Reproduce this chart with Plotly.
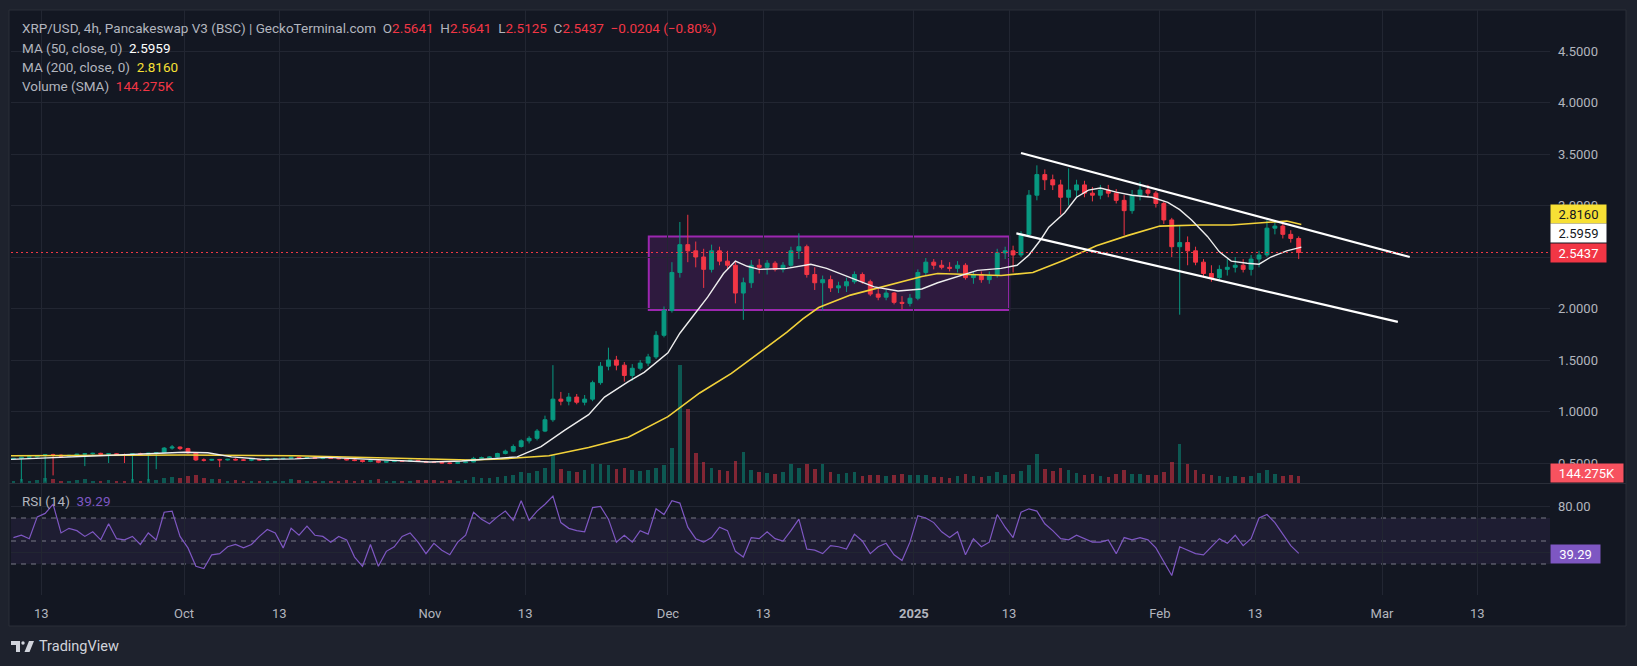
import pandas as pd
import plotly.graph_objects as go

# ---------------- data (daily aggregation) ----------------
first_day, last_day = "2024-09-09", "2025-02-18"

open_ = [
    .540,.545,.556,.560,.570,.580,.576,.566,.574,.586,.590,.594,.586,.590,.582,.578,.590,.584,.596,.600,.645,.655,
    .640,.600,.530,.528,.535,.530,.536,.530,.528,.532,.530,.538,.542,.545,.556,.548,.552,.545,.548,.544,.542,.530,.524,.515,.522,.508,.514,.520,.518,.526,.515,
    .508,.506,.500,.496,.504,.510,.545,.552,.558,.592,.615,.660,.715,.740,.810,.920,1.120,1.100,1.140,1.090,1.120,1.280,1.440,1.500,1.450,1.350,1.420,1.470,1.530,1.740,
    1.980,2.350,2.620,2.560,2.500,2.380,2.560,2.460,2.420,2.150,2.250,2.420,2.400,2.440,2.380,2.420,2.560,2.600,2.330,2.250,2.280,2.200,2.220,2.260,2.330,2.260,2.140,2.110,2.150,2.060,2.050,
    2.100,2.350,2.450,2.420,2.400,2.390,2.420,2.300,2.330,2.280,2.320,2.540,2.560,2.520,2.720,3.100,3.300,3.250,3.200,3.080,3.150,3.200,3.120,3.100,3.150,3.120,3.050,2.950,3.100,3.150,3.120,
    3.020,2.860,2.600,2.640,2.560,2.450,2.340,2.300,2.380,2.400,2.420,2.380,2.480,2.520,2.780,2.800,2.720,2.680,
]
high = [
    .548,.560,.566,.575,.586,.590,.584,.580,.590,.596,.600,.600,.596,.596,.592,.595,.600,.600,.606,.655,.675,.662,
    .648,.605,.545,.540,.540,.540,.546,.540,.536,.540,.542,.546,.550,.562,.562,.558,.558,.552,.553,.550,.548,.538,.530,.526,.526,.518,.524,.528,.530,.530,.522,
    .518,.512,.506,.508,.514,.560,.562,.566,.600,.630,.680,.730,.760,.830,.960,1.450,1.190,1.180,1.170,1.160,1.300,1.480,1.620,1.540,1.480,1.460,1.500,1.560,1.780,2.020,
    2.450,2.840,2.910,2.650,2.580,2.620,2.600,2.560,2.460,2.300,2.470,2.480,2.470,2.460,2.450,2.600,2.730,2.620,2.400,2.320,2.320,2.260,2.300,2.360,2.350,2.280,2.200,2.180,2.160,2.120,2.140,
    2.380,2.490,2.480,2.470,2.450,2.460,2.440,2.360,2.360,2.360,2.580,2.600,2.610,2.750,3.150,3.390,3.350,3.300,3.250,3.360,3.250,3.240,3.180,3.200,3.200,3.160,3.100,3.150,3.230,3.200,3.140,
    3.040,2.880,2.800,2.700,2.600,2.480,2.420,2.420,2.480,2.500,2.480,2.520,2.560,2.860,2.850,2.840,2.760,2.700,
]
low = [
    .530,.320,.540,.552,.320,.380,.560,.558,.568,.470,.580,.580,.500,.575,.500,.320,.580,.320,.440,.596,.630,.625,
    .590,.520,.515,.520,.460,.524,.526,.522,.518,.524,.526,.532,.534,.540,.540,.540,.540,.536,.540,.536,.525,.518,.505,.508,.498,.502,.508,.512,.514,.510,.504,
    .500,.496,.488,.490,.498,.506,.535,.544,.554,.584,.605,.650,.690,.720,.800,.900,1.060,1.060,1.070,1.060,1.100,1.260,1.400,1.400,1.290,1.300,1.400,1.440,1.510,1.720,
    1.960,2.300,2.450,2.400,2.200,2.350,2.420,2.380,2.050,1.890,2.200,2.340,2.330,2.360,2.350,2.400,2.480,2.300,2.180,1.980,2.160,2.150,2.160,2.240,2.240,2.120,2.080,2.080,2.040,1.990,2.020,
    2.080,2.320,2.380,2.380,2.360,2.350,2.280,2.240,2.250,2.240,2.300,2.480,2.350,2.500,2.700,3.050,3.150,3.150,2.910,3.000,3.080,3.080,3.040,3.060,3.080,3.020,2.710,2.920,3.050,3.080,2.980,
    2.820,2.500,1.940,2.420,2.420,2.300,2.260,2.280,2.320,2.350,2.350,2.320,2.400,2.500,2.720,2.680,2.640,2.480,
]
close = [
    .545,.556,.560,.570,.580,.576,.566,.574,.586,.590,.594,.586,.590,.582,.578,.590,.584,.596,.600,.645,.655,.640,
    .600,.530,.528,.535,.530,.536,.530,.528,.532,.530,.538,.542,.545,.556,.548,.552,.545,.548,.544,.542,.530,.524,.515,.522,.508,.514,.520,.518,.526,.515,.508,
    .506,.500,.496,.504,.510,.545,.552,.558,.592,.615,.660,.715,.740,.810,.920,1.120,1.100,1.140,1.090,1.120,1.280,1.440,1.500,1.450,1.350,1.420,1.470,1.530,1.740,1.980,
    2.350,2.620,2.560,2.500,2.380,2.560,2.460,2.420,2.150,2.250,2.420,2.400,2.440,2.380,2.420,2.560,2.600,2.330,2.250,2.280,2.200,2.220,2.260,2.330,2.260,2.140,2.110,2.150,2.060,2.050,2.100,
    2.350,2.450,2.420,2.400,2.390,2.420,2.300,2.330,2.280,2.320,2.540,2.560,2.520,2.720,3.100,3.300,3.250,3.200,3.080,3.150,3.200,3.120,3.100,3.150,3.120,3.050,2.950,3.100,3.150,3.120,3.020,
    2.860,2.600,2.640,2.560,2.450,2.340,2.300,2.380,2.400,2.420,2.380,2.480,2.520,2.780,2.800,2.720,2.680,2.5437,
]
volume_k = [
    20,35,18,22,40,30,15,18,22,30,18,15,25,14,20,38,18,35,28,45,55,40,
    60,65,45,35,30,20,22,18,20,18,15,20,18,30,25,20,18,15,14,16,22,20,28,22,30,18,15,18,20,22,25,
    25,20,22,18,25,50,45,40,55,60,70,90,85,100,130,235,120,100,90,110,160,160,150,120,130,110,100,110,127,150,
    300,1000,626,250,178,130,110,100,186,262,110,90,85,80,95,160,130,160,120,160,90,80,85,93,60,70,65,60,70,75,65,
    68,70,55,50,45,60,75,60,55,60,90,70,80,100,150,245,120,100,127,110,85,70,75,60,55,80,110,80,75,65,70,
    90,180,330,160,110,80,70,60,55,60,55,60,85,110,80,60,65,60,
]
rsi = [
    53,55,52,71,74,82,57,61,59,54,58,51,65,52,51,54,47,57,51,75,76,54,
    44,28,26,38,39,45,47,44,47,54,60,57,44,61,55,63,55,54,49,54,51,36,28,47,28,41,45,54,57,49,39,
    48,42,38,49,55,75,69,65,71,76,68,85,68,76,82,89,66,61,59,58,79,80,69,49,55,49,59,56,78,73,
    85,83,62,52,49,53,62,59,41,36,53,52,58,52,50,59,69,43,42,39,46,45,43,56,50,39,45,48,38,33,49,
    72,70,66,58,53,58,38,52,45,49,73,62,53,75,78,76,65,59,52,51,55,52,49,49,51,39,53,51,53,51,44,
    32,20,45,42,39,38,45,52,48,55,46,52,70,73,66,56,46,39.29,
]
ma50_dates = ["2024-09-09 04:00","2024-09-16","2024-09-24","2024-10-01","2024-10-04","2024-10-07","2024-10-11",
              "2024-10-15","2024-10-19","2024-10-24","2024-10-28","2024-11-01","2024-11-05","2024-11-10","2024-11-12",
              "2024-11-15","2024-11-18","2024-11-21","2024-11-23","2024-11-26","2024-11-28","2024-12-01","2024-12-02 12:00",
              "2024-12-04","2024-12-06","2024-12-08","2024-12-09 12:00","2024-12-11","2024-12-12 12:00","2024-12-16",
              "2024-12-19","2024-12-21","2024-12-24","2024-12-27","2024-12-30","2025-01-02","2025-01-04","2025-01-07",
              "2025-01-09","2025-01-12","2025-01-14","2025-01-15 12:00","2025-01-17","2025-01-18","2025-01-20",
              "2025-01-21 12:00","2025-01-23","2025-01-24 12:00","2025-01-26 12:00","2025-01-28 12:00","2025-01-31",
              "2025-02-02","2025-02-03 12:00","2025-02-05","2025-02-07","2025-02-08 12:00","2025-02-10","2025-02-12",
              "2025-02-13 12:00","2025-02-15","2025-02-17","2025-02-18 20:00"]
ma50_values = [0.535,0.555,0.578,0.605,0.600,0.560,0.535,0.540,0.555,0.535,0.520,0.510,0.520,0.545,0.560,
               0.660,0.820,0.970,1.140,1.290,1.380,1.570,1.760,1.910,2.110,2.340,2.460,2.410,2.380,2.390,
               2.430,2.390,2.300,2.210,2.170,2.190,2.250,2.320,2.370,2.390,2.420,2.520,2.670,2.790,2.930,
               3.080,3.150,3.170,3.130,3.100,3.080,3.030,2.960,2.860,2.700,2.550,2.460,2.440,2.430,2.500,2.560,2.5959]
ma200_dates = ["2024-09-09 04:00","2024-09-20","2024-10-01","2024-10-15","2024-10-25","2024-11-01","2024-11-06",
               "2024-11-10","2024-11-16","2024-11-21","2024-11-26","2024-12-01","2024-12-05","2024-12-09","2024-12-13",
               "2024-12-16","2024-12-18","2024-12-20","2024-12-24","2024-12-28","2025-01-02","2025-01-04","2025-01-08",
               "2025-01-12","2025-01-16","2025-01-20","2025-01-24","2025-01-28","2025-02-01","2025-02-06","2025-02-10",
               "2025-02-14","2025-02-17","2025-02-18 20:00"]
ma200_values = [0.570,0.575,0.578,0.570,0.555,0.540,0.530,0.540,0.570,0.650,0.750,0.950,1.180,1.370,1.600,
                1.770,1.900,2.010,2.130,2.210,2.310,2.340,2.330,2.320,2.350,2.470,2.610,2.710,2.800,2.810,2.810,
                2.830,2.850,2.816]

# drawings on the chart
box_x = ["2024-11-28 14:00", "2025-01-13 00:00"]
box_y = [1.985, 2.700]
upper_x = ["2025-01-14 12:00", "2025-03-04 12:00"]
upper_y = [3.51, 2.50]
lower_x = ["2025-01-13 22:00", "2025-03-03 00:00"]
lower_y = [2.73, 1.87]
last_price = 2.5437

# axis labels (labels fully hidden behind the price-scale badges are left blank)
price_ticks = [0.5, 1.0, 1.5, 2.0, 2.5, 3.0, 3.5, 4.0, 4.5]
price_labels = ["0.5000", "1.0000", "1.5000", "2.0000", "", "3.0000", "3.5000", "4.0000", "4.5000"]
date_ticks = ["2024-09-13","2024-10-01","2024-10-13","2024-11-01","2024-11-13","2024-12-01","2024-12-13",
              "2025-01-01","2025-01-13","2025-02-01","2025-02-13","2025-03-01","2025-03-13"]
date_labels = ["13","Oct","13","Nov","13","Dec","13","<b>2025</b>","13","Feb","13","Mar","13"]
rsi_ticks = [40, 80]
rsi_labels = ["", "80.00"]

title_txt = "XRP/USD, 4h, Pancakeswap V3 (BSC) | GeckoTerminal.com"
ohlc_txt = [("O", "2.5641"), ("H", "2.5641"), ("L", "2.5125"), ("C", "2.5437")]
change_txt = "\u22120.0204 (\u22120.80%)"
ma50_lbl, ma50_val = "MA (50, close, 0)", "2.5959"
ma200_lbl, ma200_val = "MA (200, close, 0)", "2.8160"
vol_lbl, vol_val = "Volume (SMA)", "144.275K"
rsi_lbl, rsi_val = "RSI (14)", "39.29"

# ---------------- styling ----------------
FONT = "Roboto"
TXT = "#b2b5be"
UP, DN = "#089981", "#f23645"
BG, FRAME, GRID = "#131722", "#1e222d", "#222632"
PL, PR, PT, PB = 11, 1550, 10, 595


def px(x):
    return (x - PL) / (PR - PL)


def py(y):
    return (PB - y) / (PB - PT)


days = pd.date_range(first_day, last_day, freq="D")
assert len(days) == len(open_) == len(high) == len(low) == len(close) == len(volume_k) == len(rsi)
xc = days + pd.Timedelta(hours=12)
vol_colors = ["rgba(8,153,129,0.5)" if c >= o else "rgba(242,54,69,0.5)" for o, c in zip(open_, close)]

fig = go.Figure()
fig.add_trace(go.Bar(x=xc, y=volume_k, marker=dict(color=vol_colors, line=dict(width=0)),
                     width=0.45 * 86400000, xaxis="x", yaxis="y", hoverinfo="skip"))
fig.add_trace(go.Candlestick(x=xc, open=open_, high=high, low=low, close=close,
                             increasing=dict(line=dict(color=UP, width=1), fillcolor=UP),
                             decreasing=dict(line=dict(color=DN, width=1), fillcolor=DN),
                             whiskerwidth=0, xaxis="x", yaxis="y3", hoverinfo="skip"))
fig.add_trace(go.Scatter(x=ma200_dates, y=ma200_values, mode="lines", line=dict(color="#f2d23a", width=1.6),
                         xaxis="x", yaxis="y3", hoverinfo="skip"))
fig.add_trace(go.Scatter(x=ma50_dates, y=ma50_values, mode="lines", line=dict(color="#eeeeee", width=1.4),
                         xaxis="x", yaxis="y3", hoverinfo="skip"))
fig.add_trace(go.Scatter(x=xc, y=rsi, mode="lines", line=dict(color="#7e57c2", width=1.2),
                         xaxis="x2", yaxis="y2", hoverinfo="skip"))

x_range = ["2024-09-09 04:41", "2025-03-22 04:12"]
axis_font = dict(family=FONT, size=13, color=TXT)

shapes = [
    dict(type="rect", xref="paper", yref="paper", x0=px(9), x1=px(1626), y0=py(626), y1=py(10),
         fillcolor=BG, line=dict(color="#2a2e39", width=1), layer="below"),
    dict(type="line", xref="paper", yref="paper", x0=px(9), x1=px(1626), y0=py(483.5), y1=py(483.5),
         line=dict(color="#2a2e39", width=1), layer="below"),
    dict(type="rect", xref="paper", yref="y2", x0=0, x1=1, y0=30, y1=70,
         fillcolor="rgba(126,87,194,0.10)", line=dict(width=0), layer="below"),
]
for lvl in (70, 50, 30):
    shapes.append(dict(type="line", xref="paper", yref="y2", x0=0, x1=1, y0=lvl, y1=lvl,
                       line=dict(color="#787b86", width=1, dash="5px,5px"), layer="below"))
shapes += [
    dict(type="rect", xref="x", yref="y3", x0=box_x[0], x1=box_x[1], y0=box_y[0], y1=box_y[1],
         fillcolor="rgba(156,39,176,0.2)", line=dict(color="#9c27b0", width=2), layer="below"),
    dict(type="line", xref="x", yref="y3", x0=upper_x[0], x1=upper_x[1], y0=upper_y[0], y1=upper_y[1],
         line=dict(color="#ffffff", width=2.2), layer="above"),
    dict(type="line", xref="x", yref="y3", x0=lower_x[0], x1=lower_x[1], y0=lower_y[0], y1=lower_y[1],
         line=dict(color="#ffffff", width=2.2), layer="above"),
    dict(type="line", xref="paper", yref="y3", x0=0, x1=1, y0=last_price, y1=last_price,
         line=dict(color=DN, width=1, dash="2px,3px"), layer="above"),
]
# TradingView logo glyph
logo_col = "#d1d4dc"
shapes += [
    dict(type="path", xref="paper", yref="paper",
         path=f"M {px(11)},{py(641)} L {px(20)},{py(641)} L {px(20)},{py(652)} L {px(16)},{py(652)} "
              f"L {px(16)},{py(645)} L {px(11)},{py(645)} Z",
         fillcolor=logo_col, line=dict(width=0)),
    dict(type="circle", xref="paper", yref="paper", x0=px(21.3), x1=px(24.7), y0=py(644.7), y1=py(641.3),
         fillcolor=logo_col, line=dict(width=0)),
    dict(type="path", xref="paper", yref="paper",
         path=f"M {px(29)},{py(641)} L {px(34)},{py(641)} L {px(29.5)},{py(652)} L {px(24.5)},{py(652)} Z",
         fillcolor=logo_col, line=dict(width=0)),
]

NB = "\u00a0"


def col(t, c):
    return f"<span style='color:{c}'>{t}</span>"


line1 = title_txt + NB * 2 + (NB * 2).join(k + col(v, DN) for k, v in ohlc_txt) + NB * 2 + col(change_txt, DN)
legend_rows = [
    (line1, 28),
    (ma50_lbl + NB * 2 + col(ma50_val, "#ffffff"), 48),
    (ma200_lbl + NB * 2 + col(ma200_val, "#f7e035"), 67),
    (vol_lbl + NB * 2 + col(vol_val, DN), 86),
]
annotations = []
for txt, yy in legend_rows:
    annotations.append(dict(xref="paper", yref="paper", x=px(20), y=py(yy), xanchor="left", yanchor="middle",
                            text=txt, showarrow=False, font=dict(family=FONT, size=13.5, color=TXT)))
annotations.append(dict(xref="paper", yref="paper", x=px(20), y=py(500.5), xanchor="left", yanchor="middle",
                        text=rsi_lbl + NB * 2 + col(rsi_val, "#7e57c2"), showarrow=False,
                        font=dict(family=FONT, size=13.5, color=TXT)))

# price-scale badges
for txt, yy, bg, fg, w in [(ma200_val, 214, "#f7e035", "#131722", 55),
                           (ma50_val, 232.5, "#ffffff", "#131722", 55),
                           (f"{last_price:.4f}", 253, DN, "#ffffff", 55),
                           (vol_val, 472.5, "#f7525f", "#ffffff", 72),
                           (rsi_val, 553.5, "#7e57c2", "#ffffff", 49)]:
    annotations.append(dict(xref="paper", yref="paper", x=1.0, y=py(yy), xanchor="left", yanchor="middle",
                            text=txt, showarrow=False, bgcolor=bg, width=w, height=18, borderpad=0,
                            align="center", font=dict(family=FONT, size=13, color=fg)))

annotations.append(dict(xref="paper", yref="paper", x=px(37), y=py(646.5), xanchor="left", yanchor="middle",
                        text="TradingView", showarrow=False, font=dict(family=FONT, size=14.5, color=logo_col)))

fig.update_layout(
    width=1637, height=666,
    margin=dict(l=PL, r=1637 - PR, t=PT, b=666 - PB, autoexpand=False),
    paper_bgcolor=FRAME, plot_bgcolor=BG,
    showlegend=False, hovermode=False, bargap=0,
    font=dict(family=FONT, color=TXT),
    xaxis=dict(domain=[0, 1], anchor="y", type="date", range=x_range, tickvals=date_ticks,
               showticklabels=False, showgrid=True, gridcolor=GRID, gridwidth=1, zeroline=False,
               showline=False, rangeslider=dict(visible=False), fixedrange=True),
    xaxis2=dict(domain=[0, 1], anchor="y2", type="date", range=x_range, matches="x", tickvals=date_ticks,
                ticktext=date_labels, tickfont=axis_font, ticklabelstandoff=9, showgrid=True,
                gridcolor=GRID, gridwidth=1, zeroline=False, showline=False, ticks=""),
    yaxis=dict(domain=[py(483), 1], anchor="x", range=[0, 4000], visible=False, showgrid=False,
               fixedrange=True),
    yaxis3=dict(overlaying="y", anchor="x", side="right", range=[0.306, 4.898], tickvals=price_ticks,
                ticktext=price_labels, tickfont=axis_font, ticklabelstandoff=7,
                showgrid=True, gridcolor=GRID, gridwidth=1, zeroline=False, showline=False, ticks=""),
    yaxis2=dict(domain=[0, py(484)], anchor="x2", side="right", range=[3.04, 99.57], tickvals=rsi_ticks,
                ticktext=rsi_labels, tickfont=axis_font, ticklabelstandoff=7,
                showgrid=True, gridcolor=GRID, gridwidth=1, zeroline=False, showline=False, ticks=""),
    shapes=shapes,
    annotations=annotations,
)

fig.write_html(
    "out.html",
    config={"displayModeBar": False, "staticPlot": True},
    post_script="document.body.style.margin='0px';document.body.style.padding='0px';"
                "document.body.style.overflow='hidden';",
)
